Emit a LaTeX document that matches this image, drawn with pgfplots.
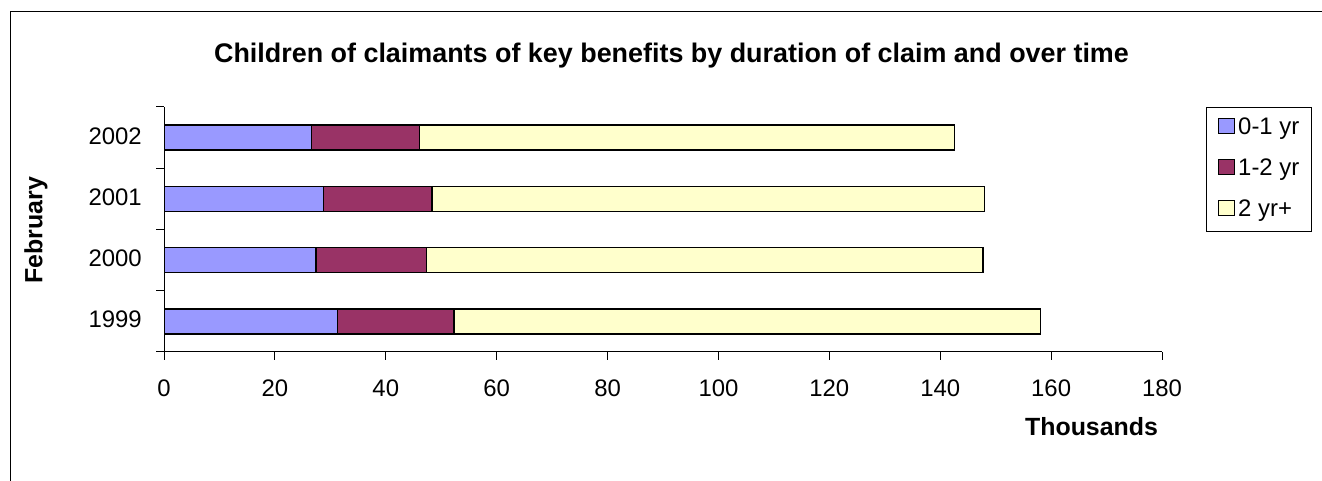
\documentclass[border=0pt]{standalone}
\usepackage{pgfplots}
\pgfplotsset{compat=1.18}
\usepackage{fontspec}
\setmainfont{Liberation Sans}
\definecolor{cA}{HTML}{9999FF}
\definecolor{cB}{HTML}{993366}
\definecolor{cC}{HTML}{FFFFCC}
\pgfplotsset{sqlegend/.style={legend image code/.code={\draw[##1, line width=0.8bp] (0bp,-5bp) rectangle (16bp,10bp);}}}
\begin{document}
\begin{tikzpicture}[x=1bp,y=1bp]
\path[use as bounding box] (0,0) rectangle (1322,481);
\draw[line width=1bp] (10,0) -- (10,469) -- (1322,469);
\node[anchor=base, inner sep=0pt, font=\fontsize{27}{29}\selectfont\bfseries] at (671.5,418) {Children of claimants of key benefits by duration of claim and over time};
\node[anchor=base, inner sep=0pt, font=\fontsize{25}{27}\selectfont\bfseries] at (1091.5,45) {Thousands};
\node[anchor=center, rotate=90, inner sep=0pt, font=\fontsize{25}{27}\selectfont\bfseries] at (36,251) {February};
\begin{axis}[
  at={(164bp,129bp)}, anchor=south west,
  scale only axis, width=998bp, height=245bp,
  xbar stacked, bar width=25bp,
  xmin=0, xmax=180, ymin=-0.5, ymax=3.5,
  axis x line*=bottom, axis y line*=left,
  axis line style={line width=1bp, -},
  xtick={0,20,...,180},
  ytick={0,1,2,3}, yticklabels={1999,2000,2001,2002},
  major y tick style={draw=none},
  minor ytick={-0.5,0.5,1.5,2.5,3.5},
  tick align=outside, major tick length=8bp, minor tick length=8bp,
  tick style={black, line width=1bp},
  /pgf/number format/assume math mode=true,
  ticklabel style={font=\fontsize{24}{26}\selectfont, inner sep=0pt},
  xticklabel style={anchor=base, yshift=-37bp},
  yticklabel style={anchor=base east, yshift=-6.5bp, xshift=-14bp},
  legend style={at={(axis description cs:1.0441,1)}, anchor=north west, draw=black, line width=0.8bp,
    font=\fontsize{24}{26}\selectfont, row sep=19bp, inner xsep=12bp, inner ysep=10bp,
    nodes={inner sep=0pt, text height=17bp, text depth=5bp},
    column sep=3bp},
  legend cell align=left,
]
\addplot+[draw=black, line width=1.5bp, fill=cA, sqlegend] coordinates {(31.3,0) (27.4,1) (28.8,2) (26.6,3)};
\addplot+[draw=black, line width=1.5bp, fill=cB, sqlegend] coordinates {(21.0,0) (19.9,1) (19.5,2) (19.5,3)};
\addplot+[draw=black, line width=1.5bp, fill=cC, sqlegend] coordinates {(105.8,0) (100.4,1) (99.7,2) (96.5,3)};
\legend{0-1 yr, 1-2 yr, 2 yr+}
\end{axis}
\end{tikzpicture}
\end{document}
